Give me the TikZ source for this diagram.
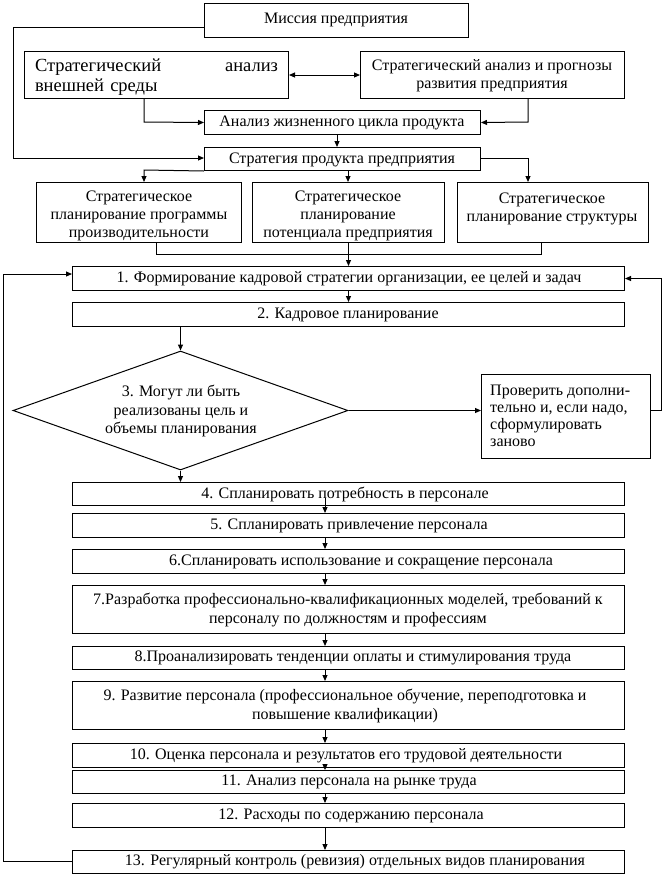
\documentclass[tikz,border=0pt]{standalone}
\usepackage{fontspec}
\setmainfont{Liberation Serif}
\usetikzlibrary{arrows.meta,shapes.geometric}
\begin{document}
\begin{tikzpicture}[x=1pt,y=-1pt,
  box/.style={draw, line width=1pt, inner sep=0pt, anchor=north west},
  txt/.style={inner sep=0pt, font=\fontsize{16}{18.4}\selectfont, align=center},
  arr/.style={line width=1pt, -{Triangle[length=6pt,width=5pt]}},
  dbl/.style={line width=1pt, {Triangle[length=6pt,width=5pt]}-{Triangle[length=6pt,width=5pt]}},
  ln/.style={line width=1pt}]
\useasboundingbox (0,0) rectangle (662,876);
% boxes
\node[box, minimum width=264pt, minimum height=34pt] (mission) at (204,3) {};
\node[box, minimum width=264pt, minimum height=47pt] (ext) at (24,51) {};
\node[box, minimum width=264pt, minimum height=47pt] (fore) at (360,51) {};
\node[box, minimum width=276pt, minimum height=24pt] (life) at (204,110) {};
\node[box, minimum width=276pt, minimum height=23pt] (strat) at (204,147) {};
\node[box, minimum width=205pt, minimum height=60pt] (p1) at (36,182) {};
\node[box, minimum width=192pt, minimum height=60pt] (p2) at (252,182) {};
\node[box, minimum width=191pt, minimum height=60pt] (p3) at (457,182) {};
\node[box, minimum width=552pt, minimum height=24pt] (b1) at (72,266) {};
\node[box, minimum width=552pt, minimum height=24pt] (b2) at (72,302) {};
\node[draw, diamond, line width=1pt, inner sep=0pt, aspect=2.815,
      minimum width=335pt, minimum height=119pt] (dia) at (180.5,410.5) {};
\node[box, minimum width=169pt, minimum height=84pt] (check) at (481,374) {};
\node[box, minimum width=552pt, minimum height=23pt] (b4) at (72,482) {};
\node[box, minimum width=552pt, minimum height=24pt] (b5) at (72,513) {};
\node[box, minimum width=552pt, minimum height=24pt] (b6) at (72,549) {};
\node[box, minimum width=552pt, minimum height=48pt] (b7) at (72,585) {};
\node[box, minimum width=552pt, minimum height=23pt] (b8) at (72,646) {};
\node[box, minimum width=552pt, minimum height=48pt] (b9) at (72,681) {};
\node[box, minimum width=552pt, minimum height=24pt] (b10) at (72,743) {};
\node[box, minimum width=552pt, minimum height=23pt] (b11) at (72,770) {};
\node[box, minimum width=552pt, minimum height=24pt] (b12) at (72,803) {};
\node[box, minimum width=552pt, minimum height=23pt] (b13) at (72,850) {};
% texts
\node[txt] (t-mission) at (336,20) {Миссия предприятия};
\node[txt, font=\fontsize{18.5}{20}\selectfont, text width=243pt, align=left] (t-ext) at (156.5,77)
  {\hbox to 243pt{Стратегический\hfill анализ}\\внешней среды};
\node[txt] (t-fore) at (492,76) {Стратегический анализ и прогнозы\\развития предприятия};
\node[txt] (t-life) at (342,123) {Анализ жизненного цикла продукта};
\node[txt] (t-strat) at (342,160) {Стратегия продукта предприятия};
\node[txt] (t-p1) at (139,216) {Стратегическое\\планирование программы\\производительности};
\node[txt] (t-p2) at (348,216) {Стратегическое\\планирование\\потенциала предприятия};
\node[txt] (t-p3) at (552,209) {Стратегическое\\планирование структуры};
\node[txt] (t-b1) at (349,279) {1. Формирование кадровой стратегии организации, ее целей и задач};
\node[txt] (t-b2) at (348,315) {2. Кадровое планирование};
\node[txt] (t-dia) at (181,411) {3. Могут ли быть\\реализованы цель и\\объемы планирования};
\node[txt, align=left, font=\fontsize{16}{17}\selectfont, anchor=west] (t-check) at (490,416)
  {Проверить дополни-\\тельно и, если надо,\\сформулировать\\заново};
\node[txt] (t-b4) at (345,494) {4. Спланировать потребность в персонале};
\node[txt] (t-b5) at (349,526) {5. Спланировать привлечение персонала};
\node[txt] (t-b6) at (361,562) {6.Спланировать использование и сокращение персонала};
\node[txt] (t-b7) at (348,610) {7.Разработка профессионально-квалификационных моделей, требований к\\персоналу по должностям и профессиям};
\node[txt] (t-b8) at (353,658) {8.Проанализировать тенденции оплаты и стимулирования труда};
\node[txt] (t-b9) at (345,706) {9. Развитие персонала (профессиональное обучение, переподготовка и\\повышение квалификации)};
\node[txt] (t-b10) at (346,756) {10. Оценка персонала и результатов его трудовой деятельности};
\node[txt] (t-b11) at (349,782) {11. Анализ персонала на рынке труда};
\node[txt] (t-b12) at (351,816) {12. Расходы по содержанию персонала};
\node[txt] (t-b13) at (355,862) {13. Регулярный контроль (ревизия) отдельных видов планирования};
% connector points
\coordinate (c1) at (13,27);
\coordinate (c2) at (13,158);
\coordinate (c3) at (144,122);
\coordinate (c4) at (528,122);
\coordinate (c5) at (337,140);
\coordinate (c6) at (144,170);
\coordinate (c7) at (348,176);
\coordinate (c8) at (528,158.5);
\coordinate (c9) at (156,254);
\coordinate (c10) at (541,254);
\coordinate (c11) at (661,410);
\coordinate (c12) at (325,498);
\coordinate (c13) at (3,861.5);
\coordinate (c14) at (3,274);
% connectors
\draw[arr] (mission.west |- c1) -- (c1) -- (c2) -- (strat.west |- c2);
\draw[dbl] (ext.east) -- (fore.west);
\draw[arr] (ext.south -| c3) -- (c3) -- (life.west);
\draw[arr] (fore.south -| c4) -- (c4) -- (life.east);
\draw[arr] (life.south -| c5) -- (strat.north -| c5);
\draw[arr] (strat.south west) -- (c6) -- (p1.north -| c6);
\draw[arr] (strat.south -| c7) -- (p2.north -| c7);
\draw[arr] (strat.east |- c8) -- (c8) -- (p3.north -| c8);
\draw[ln] (p1.south -| c9) -- (c9) -- (c10) -- (p3.south -| c10);
\draw[arr] (p2.south) -- (b1.north);
\draw[arr] (b1.south) -- (b2.north);
\draw[arr] (b2.south -| dia.north) -- (dia.north);
\draw[arr] (dia.east) -- (check.west |- dia.east);
\draw[arr] (check.east |- c11) -- (c11) -- (c11 |- b1.east) -- (b1.east);
\draw[arr] (dia.south) -- (b4.north -| dia.south);
\draw[arr] (c12) -- (b5.north -| c12);
\foreach \a/\b in {b5/b6,b6/b7,b7/b8,b8/b9,b9/b10,b10/b11,b11/b12,b12/b13}
  \draw[arr] (\a.south -| c12) -- (\b.north -| c12);
\draw[arr] (b13.west |- c13) -- (c13) -- (c14) -- (b1.west |- c14);
\end{tikzpicture}
\end{document}
